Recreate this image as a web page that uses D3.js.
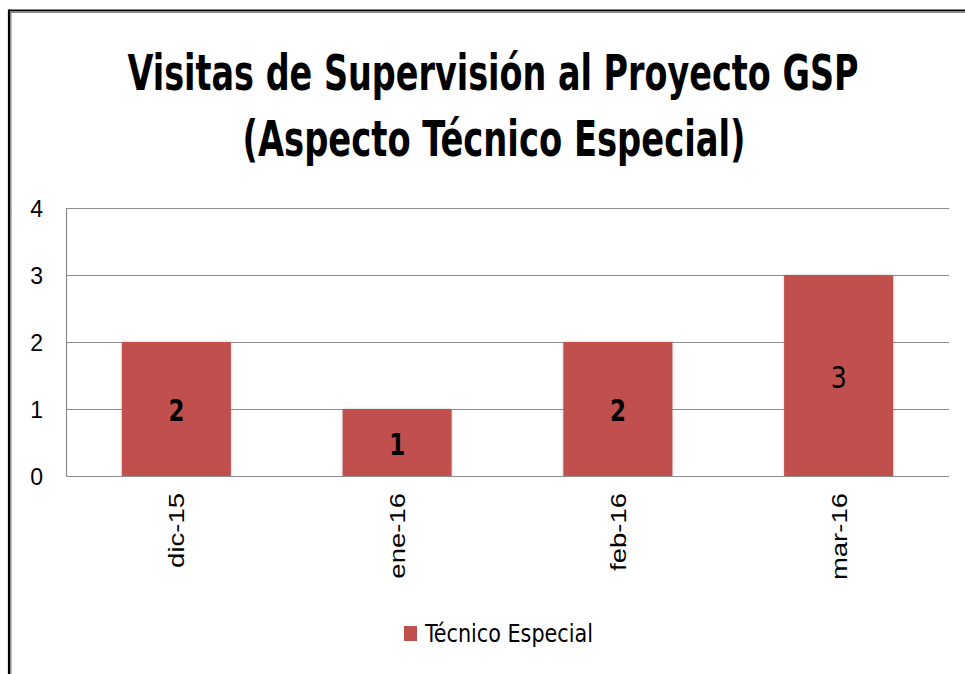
<!DOCTYPE html>
<html><head><meta charset="utf-8">
<script src="https://cdn.jsdelivr.net/npm/d3@7"></script>
<style>
html,body{margin:0;padding:0;background:#fff;}
svg{display:block;}
</style></head>
<body>
<script>
const categories = ["dic-15","ene-16","feb-16","mar-16"];
const values = [2,1,2,3];
const yTicks = [0,1,2,3,4];
const titleLines = ["Visitas de Supervisión al Proyecto GSP","(Aspecto Técnico Especial)"];
const seriesName = "Técnico Especial";

const W = 965, H = 674;
const plot = {left:66, right:949, top:208, bottom:476};
const condensed = "'Liberation Sans Narrow','DejaVu Sans Condensed','DejaVu Sans',sans-serif";
const regular = "'Liberation Sans','DejaVu Sans',sans-serif";

const svg = d3.select("body").append("svg").attr("width",W).attr("height",H);

const defs = svg.append("defs");
const f = defs.append("filter").attr("id","sh").attr("x","-20%").attr("y","-20%").attr("width","140%").attr("height","140%");
f.append("feDropShadow").attr("dx",0).attr("dy",0).attr("stdDeviation",1.6)
  .attr("flood-color","#9a9a9a").attr("flood-opacity",0.55);

// frame
svg.append("line").attr("x1",9).attr("x2",W).attr("y1",10.5).attr("y2",10.5).attr("stroke","#000").attr("stroke-width",2.2);
svg.append("line").attr("x1",9).attr("x2",W).attr("y1",12.3).attr("y2",12.3).attr("stroke","#8a8a8a").attr("stroke-width",1.5);
svg.append("line").attr("x1",9).attr("x2",9).attr("y1",9.5).attr("y2",H).attr("stroke","#000").attr("stroke-width",2.2);
svg.append("line").attr("x1",10.8).attr("x2",10.8).attr("y1",11).attr("y2",H).attr("stroke","#8a8a8a").attr("stroke-width",1.5);

// title (drawn at smaller size and stretched vertically to mimic a condensed bold face)
const sy = 50/35;
const tl = [{t:titleLines[0], cx:493, y:90, len:731},{t:titleLines[1], cx:494, y:156, len:503}];
svg.selectAll("text.title").data(tl).join("text").attr("class","title")
  .attr("transform",d=>`translate(${d.cx},${d.y}) scale(1,${sy})`)
  .attr("x",0).attr("y",0).attr("text-anchor","middle")
  .attr("font-family",condensed).attr("font-weight","bold").attr("font-size",35)
  .attr("fill","#000")
  .attr("textLength",d=>d.len).attr("lengthAdjust","spacingAndGlyphs")
  .text(d=>d.t);

const x = d3.scaleBand().domain(categories).range([plot.left,plot.right]).paddingInner(0.506).paddingOuter(0.253);
const y = d3.scaleLinear().domain([0,4]).range([plot.bottom,plot.top]);

// gridlines
svg.append("g").selectAll("line").data(yTicks).join("line")
  .attr("x1",plot.left).attr("x2",plot.right)
  .attr("y1",d=>Math.round(y(d))+0.5).attr("y2",d=>Math.round(y(d))+0.5)
  .attr("stroke","#8c8c8c").attr("stroke-width",1.2);
svg.append("line").attr("x1",plot.left+0.5).attr("x2",plot.left+0.5)
  .attr("y1",plot.top).attr("y2",plot.bottom).attr("stroke","#8c8c8c").attr("stroke-width",1.2);

// y axis labels
const yAxis = d3.axisLeft(y).tickValues(yTicks).tickSize(0).tickPadding(0).tickFormat(d3.format("d"));
const ya = svg.append("g").attr("transform",`translate(${43},0)`).call(yAxis);
ya.select(".domain").remove();
ya.selectAll("text").attr("font-family",regular).attr("font-size",23).attr("fill","#000").attr("dy","0.36em");

// bars
const data = categories.map((c,i)=>({c, v:values[i]}));
svg.append("g").selectAll("rect").data(data).join("rect")
  .attr("x",d=>x(d.c)).attr("width",x.bandwidth())
  .attr("y",d=>y(d.v)).attr("height",d=>y(0)-y(d.v))
  .attr("fill","#C0504D").attr("filter","url(#sh)");

// data labels
const labelWeight = ["bold","bold","bold","normal"];
svg.append("g").selectAll("text").data(data).join("text")
  .attr("x",d=>x(d.c)+x.bandwidth()/2)
  .attr("y",d=>(y(d.v)+y(0))/2+12)
  .attr("text-anchor","middle")
  .attr("font-family",condensed).attr("font-size",31)
  .attr("font-weight",(d,i)=>labelWeight[i])
  .attr("textLength",16).attr("lengthAdjust","spacingAndGlyphs")
  .attr("fill","#000").text(d=>d.v);

// x axis labels
const xAxis = d3.axisBottom(x).tickSize(0).tickPadding(0);
const xa = svg.append("g").attr("transform",`translate(0,${plot.bottom})`).call(xAxis);
xa.select(".domain").remove();
xa.selectAll("text")
  .attr("font-family",regular).attr("font-size",22).attr("fill","#000")
  .attr("transform","rotate(-90)")
  .attr("text-anchor","end")
  .attr("x",-17).attr("y",0).attr("dy","0.36em")
  .each(function(){
    const L = this.getComputedTextLength();
    d3.select(this).attr("textLength",L*1.25).attr("lengthAdjust","spacingAndGlyphs");
  });

// legend
const lg = svg.append("g");
lg.append("rect").attr("x",404).attr("y",626).attr("width",13).attr("height",15).attr("fill","#C0504D");
lg.append("text").attr("x",425).attr("y",642).attr("font-family",condensed).attr("font-size",25)
  .attr("fill","#000").attr("textLength",168).attr("lengthAdjust","spacingAndGlyphs").text(seriesName);
</script>
</body></html>
